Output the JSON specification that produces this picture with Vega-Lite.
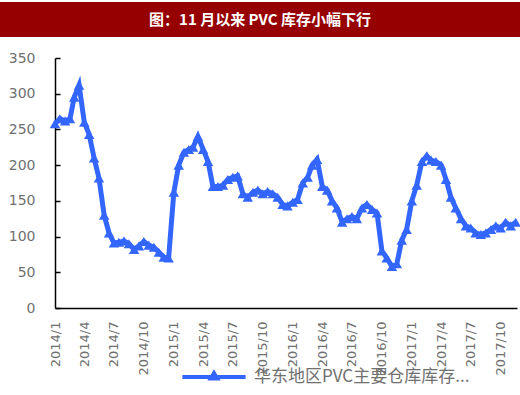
{
  "$schema": "https://vega.github.io/schema/vega-lite/v6.json",
  "background": "white",
  "padding": {"left": 0, "top": 2, "right": 0, "bottom": 0},
  "spacing": 14,
  "config": {"view": {"stroke": null}},
  "vconcat": [
    {
      "width": 520,
      "height": 35,
      "view": {"fill": "#960000", "stroke": null},
      "data": {"values": [{"t": "图：11 月以来 PVC 库存小幅下行"}]},
      "mark": {"type": "text", "color": "white", "font": "Noto Sans CJK SC", "fontSize": 15, "fontWeight": "bold", "baseline": "middle", "align": "center"},
      "encoding": {"text": {"field": "t"}}
    },
    {
      "width": 517,
      "height": 250,
      "data": {"values": [
        {"date": "2014-01-01", "value": 258},
        {"date": "2014-01-16", "value": 265},
        {"date": "2014-02-01", "value": 262},
        {"date": "2014-02-16", "value": 265},
        {"date": "2014-03-01", "value": 295},
        {"date": "2014-03-16", "value": 312},
        {"date": "2014-04-01", "value": 260},
        {"date": "2014-04-16", "value": 243},
        {"date": "2014-05-01", "value": 210},
        {"date": "2014-05-16", "value": 182},
        {"date": "2014-06-01", "value": 130},
        {"date": "2014-06-16", "value": 105},
        {"date": "2014-07-01", "value": 91},
        {"date": "2014-07-16", "value": 92},
        {"date": "2014-08-01", "value": 94},
        {"date": "2014-08-16", "value": 90},
        {"date": "2014-09-01", "value": 82},
        {"date": "2014-09-16", "value": 87},
        {"date": "2014-10-01", "value": 93},
        {"date": "2014-10-16", "value": 88},
        {"date": "2014-11-01", "value": 85},
        {"date": "2014-11-16", "value": 78},
        {"date": "2014-12-01", "value": 71},
        {"date": "2014-12-16", "value": 70},
        {"date": "2015-01-01", "value": 162},
        {"date": "2015-01-16", "value": 200},
        {"date": "2015-02-01", "value": 218},
        {"date": "2015-02-16", "value": 222},
        {"date": "2015-03-01", "value": 225},
        {"date": "2015-03-16", "value": 240},
        {"date": "2015-04-01", "value": 222},
        {"date": "2015-04-16", "value": 205},
        {"date": "2015-05-01", "value": 170},
        {"date": "2015-05-16", "value": 170},
        {"date": "2015-06-01", "value": 172},
        {"date": "2015-06-16", "value": 180},
        {"date": "2015-07-01", "value": 183},
        {"date": "2015-07-16", "value": 185},
        {"date": "2015-08-01", "value": 160},
        {"date": "2015-08-16", "value": 155},
        {"date": "2015-09-01", "value": 162},
        {"date": "2015-09-16", "value": 165},
        {"date": "2015-10-01", "value": 160},
        {"date": "2015-10-16", "value": 163},
        {"date": "2015-11-01", "value": 160},
        {"date": "2015-11-16", "value": 155},
        {"date": "2015-12-01", "value": 145},
        {"date": "2015-12-16", "value": 143},
        {"date": "2016-01-01", "value": 148},
        {"date": "2016-01-16", "value": 152},
        {"date": "2016-02-01", "value": 175},
        {"date": "2016-02-16", "value": 183},
        {"date": "2016-03-01", "value": 200},
        {"date": "2016-03-16", "value": 208},
        {"date": "2016-04-01", "value": 170},
        {"date": "2016-04-16", "value": 165},
        {"date": "2016-05-01", "value": 150},
        {"date": "2016-05-16", "value": 140},
        {"date": "2016-06-01", "value": 120},
        {"date": "2016-06-16", "value": 125},
        {"date": "2016-07-01", "value": 128},
        {"date": "2016-07-16", "value": 125},
        {"date": "2016-08-01", "value": 140},
        {"date": "2016-08-16", "value": 145},
        {"date": "2016-09-01", "value": 138},
        {"date": "2016-09-16", "value": 133},
        {"date": "2016-10-01", "value": 80},
        {"date": "2016-10-16", "value": 70},
        {"date": "2016-11-01", "value": 58},
        {"date": "2016-11-16", "value": 62},
        {"date": "2016-12-01", "value": 95},
        {"date": "2016-12-16", "value": 110},
        {"date": "2017-01-01", "value": 150},
        {"date": "2017-01-16", "value": 172},
        {"date": "2017-02-01", "value": 205},
        {"date": "2017-02-16", "value": 213},
        {"date": "2017-03-01", "value": 207},
        {"date": "2017-03-16", "value": 205},
        {"date": "2017-04-01", "value": 200},
        {"date": "2017-04-16", "value": 180},
        {"date": "2017-05-01", "value": 155},
        {"date": "2017-05-16", "value": 140},
        {"date": "2017-06-01", "value": 125},
        {"date": "2017-06-16", "value": 115},
        {"date": "2017-07-01", "value": 112},
        {"date": "2017-07-16", "value": 105},
        {"date": "2017-08-01", "value": 103},
        {"date": "2017-08-16", "value": 105},
        {"date": "2017-09-01", "value": 110},
        {"date": "2017-09-16", "value": 115},
        {"date": "2017-10-01", "value": 112},
        {"date": "2017-10-16", "value": 120},
        {"date": "2017-11-01", "value": 115},
        {"date": "2017-11-16", "value": 120}
      ]},
      "mark": {"type": "line", "strokeWidth": 5, "point": {"shape": "triangle-up", "size": 110, "filled": true}},
      "encoding": {
        "x": {
          "field": "date", "type": "temporal",
          "scale": {"type": "utc", "range": [55, 517], "domain": [{"year": 2014, "month": 1, "date": 1, "utc": true}, {"year": 2017, "month": 11, "date": 20, "utc": true}]},
          "axis": {
            "title": null, "format": "%Y/%-m", "labelAngle": -90, "ticks": false, "grid": false,
            "domainColor": "black", "domainWidth": 1.5,
            "labelColor": "#707070", "labelFont": "DejaVu Sans", "labelFontSize": 13, "labelPadding": 13,
            "labelOverlap": false, "labelFlush": false,
            "values": [
              {"year": 2014, "month": 1, "date": 1, "utc": true},
              {"year": 2014, "month": 4, "date": 1, "utc": true},
              {"year": 2014, "month": 7, "date": 1, "utc": true},
              {"year": 2014, "month": 10, "date": 1, "utc": true},
              {"year": 2015, "month": 1, "date": 1, "utc": true},
              {"year": 2015, "month": 4, "date": 1, "utc": true},
              {"year": 2015, "month": 7, "date": 1, "utc": true},
              {"year": 2015, "month": 10, "date": 1, "utc": true},
              {"year": 2016, "month": 1, "date": 1, "utc": true},
              {"year": 2016, "month": 4, "date": 1, "utc": true},
              {"year": 2016, "month": 7, "date": 1, "utc": true},
              {"year": 2016, "month": 10, "date": 1, "utc": true},
              {"year": 2017, "month": 1, "date": 1, "utc": true},
              {"year": 2017, "month": 4, "date": 1, "utc": true},
              {"year": 2017, "month": 7, "date": 1, "utc": true},
              {"year": 2017, "month": 10, "date": 1, "utc": true}
            ]
          }
        },
        "y": {
          "field": "value", "type": "quantitative",
          "scale": {"domain": [0, 350]},
          "axis": {
            "title": null, "offset": -55,
            "values": [0, 50, 100, 150, 200, 250, 300, 350], "grid": false,
            "tickSize": -5, "tickColor": "black", "tickWidth": 1.5,
            "domainColor": "black", "domainWidth": 1.5,
            "labelColor": "#707070", "labelFont": "DejaVu Sans", "labelFontSize": 14, "labelPadding": 25
          }
        },
        "color": {
          "datum": "华东地区PVC主要仓库库存...",
          "scale": {"range": ["#3366ff"]},
          "legend": {
            "title": null, "orient": "none", "legendX": 180, "legendY": 341, "padding": 0,
            "symbolType": "M-1,0L1,0M-0.1,0.05L0,-0.12L0.1,0.05Z",
            "symbolSize": 4000, "symbolStrokeWidth": 4, "symbolStrokeColor": "#3366ff",
            "labelFont": "Noto Sans CJK SC", "labelFontSize": 17, "labelColor": "#707070", "labelOffset": 6, "labelLimit": 400
          }
        }
      }
    }
  ]
}
